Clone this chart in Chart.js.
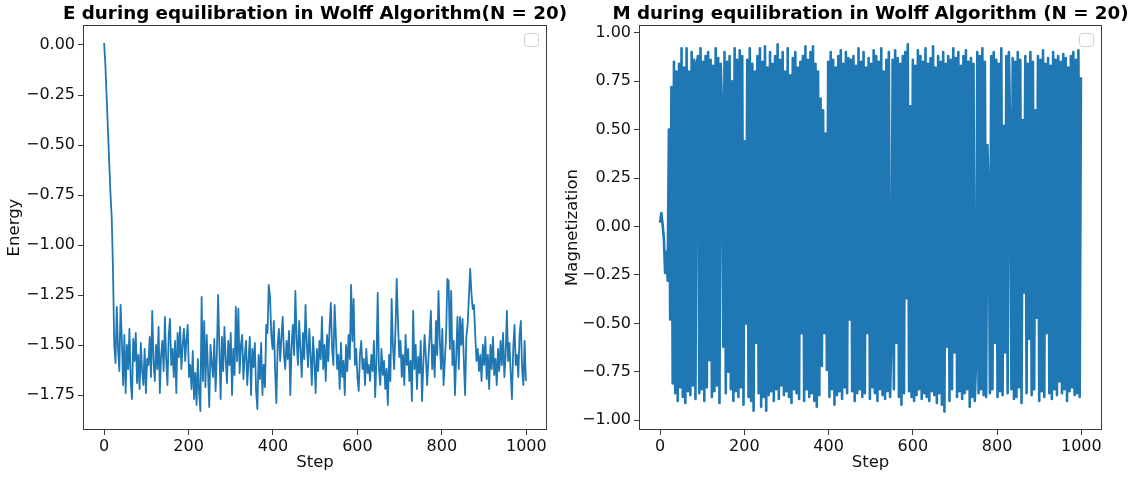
<!DOCTYPE html>
<html>
<head>
<meta charset="utf-8">
<script src="https://cdn.jsdelivr.net/npm/chart.js@4.4.1/dist/chart.umd.min.js"></script>
<style>
  html, body { margin: 0; padding: 0; background: #fff; overflow: hidden; }
  #wrap { position: relative; width: 1135px; height: 477px; }
  canvas { position: absolute; top: 0; }
  #energyChart { left: 0; }
  #magChart { left: 560px; }
</style>
</head>
<body>
<div id="wrap">
  <canvas id="energyChart" width="600" height="477"></canvas>
  <canvas id="magChart" width="575" height="477"></canvas>
</div>
<script>
// values, one sample every 3 steps (0, 3, 6 ... 999)
var STEP_STRIDE = 3;

var energy = [
  0.01, -0.10, -0.26, -0.42, -0.58, -0.74, -0.86, -1.12, -1.50, -1.59,
  -1.31, -1.52, -1.63, -1.30, -1.47, -1.70, -1.45, -1.74, -1.50, -1.62,
  -1.42, -1.68, -1.77, -1.47, -1.58, -1.44, -1.69, -1.55, -1.72, -1.49,
  -1.63, -1.70, -1.52, -1.74, -1.57, -1.60, -1.46, -1.66, -1.33, -1.58,
  -1.68, -1.50, -1.62, -1.41, -1.74, -1.55, -1.48, -1.63, -1.36, -1.57,
  -1.70, -1.45, -1.37, -1.60, -1.52, -1.66, -1.48, -1.74, -1.44, -1.56,
  -1.41, -1.62, -1.50, -1.42, -1.58, -1.47, -1.40, -1.66, -1.60, -1.72,
  -1.53, -1.77, -1.64, -1.80, -1.57, -1.74, -1.83, -1.26, -1.68, -1.38,
  -1.71, -1.45, -1.62, -1.81, -1.50, -1.59, -1.66, -1.47, -1.73, -1.55,
  -1.25, -1.52, -1.77, -1.46, -1.63, -1.41, -1.57, -1.69, -1.48, -1.60,
  -1.44, -1.75, -1.52, -1.65, -1.31, -1.58, -1.32, -1.64, -1.50, -1.45,
  -1.67, -1.56, -1.48, -1.70, -1.58, -1.46, -1.75, -1.52, -1.61, -1.49,
  -1.73, -1.82, -1.55, -1.67, -1.49, -1.75, -1.60, -1.71, -1.40, -1.44,
  -1.20, -1.26, -1.45, -1.52, -1.38, -1.63, -1.79, -1.50, -1.42, -1.58,
  -1.46, -1.36, -1.55, -1.62, -1.48, -1.57, -1.43, -1.75, -1.51, -1.40,
  -1.55, -1.23, -1.47, -1.60, -1.38, -1.52, -1.66, -1.44, -1.57, -1.30,
  -1.49, -1.61, -1.42, -1.55, -1.70, -1.46, -1.58, -1.74, -1.52, -1.63,
  -1.48, -1.57, -1.36, -1.62, -1.50, -1.68, -1.45, -1.58, -1.41, -1.29,
  -1.52, -1.60, -1.30, -1.46, -1.62, -1.55, -1.72, -1.49, -1.66, -1.58,
  -1.75, -1.50, -1.63, -1.45, -1.57, -1.20, -1.48, -1.27, -1.60, -1.52,
  -1.66, -1.73, -1.55, -1.48, -1.62, -1.57, -1.70, -1.52, -1.64, -1.60,
  -1.68, -1.55, -1.63, -1.48, -1.76, -1.58, -1.24, -1.62, -1.70, -1.52,
  -1.65, -1.58, -1.72, -1.62, -1.80, -1.55, -1.68, -1.27, -1.50, -1.62,
  -1.43, -1.17, -1.38, -1.56, -1.48, -1.66, -1.55, -1.70, -1.45, -1.60,
  -1.52, -1.68, -1.58, -1.78, -1.33, -1.62, -1.50, -1.72, -1.56, -1.64,
  -1.48, -1.78, -1.60, -1.45, -1.55, -1.70, -1.58, -1.46, -1.33, -1.62,
  -1.50, -1.66, -1.38, -1.55, -1.23, -1.47, -1.62, -1.42, -1.70, -1.58,
  -1.45, -1.17, -1.18, -1.52, -1.23, -1.60, -1.48, -1.75, -1.55, -1.36,
  -1.62, -1.36, -1.50, -1.37, -1.58, -1.75, -1.46, -1.40, -1.26, -1.12,
  -1.24, -1.32, -1.30, -1.45, -1.58, -1.52, -1.63, -1.55, -1.68, -1.50,
  -1.60, -1.46, -1.67, -1.55, -1.72, -1.50, -1.62, -1.46, -1.65, -1.57,
  -1.70, -1.52, -1.63, -1.48, -1.60, -1.44, -1.66, -1.55, -1.33, -1.58,
  -1.49, -1.64, -1.77, -1.52, -1.40, -1.60, -1.55, -1.66, -1.45, -1.38,
  -1.62, -1.70, -1.48, -1.68
];

var magnetization = [
  0.02, 0.07, 0.01, -0.06, -0.24, -0.13, -0.28, 0.50, -0.48, 0.72,
  -0.81, 0.85, -0.86, 0.80, -0.90, 0.84, -0.83, 0.92, -0.88, 0.82,
  -0.91, 0.92, -0.85, 0.80, -0.87, 0.90, -0.82, 0.86, -0.89, 0.84,
  0.88, -0.86, 0.92, -0.84, 0.85, -0.90, 0.88, -0.83, 0.90, -0.69,
  0.86, -0.88, 0.83, -0.85, 0.92, -0.82, 0.87, -0.91, 0.84, 0.62,
  -0.62, 0.90, -0.86, 0.85, -0.75, 0.88, -0.84, 0.75, -0.90, 0.92,
  -0.85, 0.86, -0.88, 0.91, -0.83, 0.88, -0.92, 0.44, -0.50, 0.86,
  -0.88, 0.92, -0.90, 0.84, -0.95, 0.80, -0.60, 0.88, -0.86, 0.92,
  -0.93, 0.85, -0.88, 0.93, -0.95, 0.82, -0.87, 0.90, -0.85, 0.84,
  -0.90, 0.88, -0.84, 0.94, -0.89, 0.86, -0.82, 0.90, -0.87, 0.80,
  -0.85, 0.92, -0.88, 0.78, -0.91, 0.87, -0.84, 0.90, -0.86, 0.82,
  -0.89, 0.85, -0.55, 0.88, -0.90, 0.93, -0.84, 0.86, -0.88, 0.90,
  -0.86, 0.93, -0.90, 0.84, -0.93, 0.80, -0.87, 0.66, -0.72, 0.60,
  -0.55, 0.48, -0.74, 0.85, -0.88, 0.90, -0.84, 0.86, -0.92, 0.82,
  -0.87, 0.88, -0.85, 0.91, -0.89, 0.84, -0.83, 0.90, -0.86, 0.87,
  -0.48, 0.86, -0.85, 0.88, -0.90, 0.83, -0.86, 0.92, -0.84, 0.85,
  -0.88, 0.90, -0.86, 0.82, -0.55, 0.87, -0.89, 0.84, -0.83, 0.91,
  -0.86, 0.88, -0.90, 0.85, -0.84, 0.92, -0.87, 0.80, -0.89, 0.86,
  -0.85, 0.90, -0.88, -0.60, 0.86, -0.84, 0.91, -0.60, 0.87, -0.88,
  0.84, -0.92, 0.88, -0.86, 0.90, -0.37, 0.94, -0.85, 0.62, -0.88,
  0.86, -0.90, 0.83, -0.87, 0.91, -0.84, 0.88, -0.89, 0.85, -0.86,
  0.92, -0.88, 0.84, -0.90, 0.87, -0.85, 0.93, -0.87, 0.82, -0.91,
  0.88, -0.86, 0.85, -0.92, 0.90, -0.955, 0.84, -0.62, 0.88, -0.90,
  0.86, -0.84, 0.92, -0.65, 0.87, -0.88, 0.90, -0.85, 0.83, -0.89,
  0.88, -0.86, 0.91, -0.84, 0.85, -0.93, 0.87, -0.88, 0.84, -0.90,
  -0.70, 0.90, -0.86, 0.88, -0.84, 0.92, -0.87, 0.85, -0.88, 0.42,
  0.18, -0.86, 0.88, -0.84, 0.90, -0.60, 0.86, -0.88, 0.84, -0.85,
  0.92, -0.87, 0.52, -0.65, 0.88, -0.86, 0.90, 0.50, -0.84, 0.87,
  -0.89, 0.85, -0.88, 0.90, -0.83, 0.86, -0.91, 0.55, -0.34, 0.88,
  -0.86, 0.84, -0.58, 0.90, -0.87, 0.85, -0.84, 0.60, -0.47, 0.88,
  -0.90, 0.86, -0.85, 0.91, -0.88, 0.84, -0.55, 0.87, -0.86, 0.83,
  -0.89, 0.90, -0.84, 0.86, -0.87, 0.88, -0.80, 0.85, -0.86, 0.89,
  -0.84, 0.87, -0.90, 0.82, -0.85, 0.88, -0.83, 0.90, -0.87, 0.86,
  -0.86, 0.91, -0.88, 0.77
];

var stepTicks = [0, 200, 400, 600, 800, 1000];
var energyTicks = [0, -0.25, -0.5, -0.75, -1, -1.25, -1.5, -1.75];
var magTicks = [1, 0.75, 0.5, 0.25, 0, -0.25, -0.5, -0.75, -1];

var BLUE = '#1f77b4';
var AXIS = '#3a3a3a';
var FONT = '"DejaVu Sans", "Liberation Sans", sans-serif';

function toPoints(values) {
    return values.map(function (v, i) { return { x: i * STEP_STRIDE, y: v }; });
}

function minusLabel(v) {
    return (v < 0 ? '\u2212' : '') + Math.abs(v).toFixed(2);
}

// matplotlib-like box, the empty legend frame and the axes title
var axesDecor = {
    id: 'axesDecor',
    afterDraw: function (chart, args, opts) {
        var ctx = chart.ctx, a = chart.chartArea;
        ctx.save();
        ctx.strokeStyle = AXIS;
        ctx.lineWidth = 1;
        ctx.strokeRect(Math.round(a.left) + 0.5, Math.round(a.top) + 0.5,
            Math.round(a.right - a.left) - 1, Math.round(a.bottom - a.top) - 1);

        ctx.fillStyle = 'rgba(255,255,255,0.8)';
        ctx.strokeStyle = '#d0d0d0';
        ctx.beginPath();
        ctx.roundRect(Math.round(a.right) - 22.5, Math.round(a.top) + 8.5, 14, 13, 3);
        ctx.fill();
        ctx.stroke();

        ctx.fillStyle = '#000';
        ctx.font = 'bold 18.3px ' + FONT;
        ctx.textAlign = 'center';
        ctx.textBaseline = 'alphabetic';
        ctx.fillText(opts.text, (a.left + a.right) / 2, 18.5);
        ctx.restore();
    }
};

function makeChart(id, values, yMin, yMax, yTicks, yLabel, yWidth, yTitlePad, rightPad, title, lineWidth) {
    return new Chart(document.getElementById(id).getContext('2d'), {
        type: 'line',
        data: {
            datasets: [{
                data: toPoints(values),
                borderColor: BLUE,
                borderWidth: lineWidth,
                borderJoinStyle: 'round',
                pointRadius: 0,
                tension: 0,
                fill: false
            }]
        },
        options: {
            responsive: false,
            animation: false,
            events: [],
            layout: { padding: { top: 25, right: rightPad, left: 0, bottom: 0 } },
            plugins: {
                legend: { display: false },
                tooltip: { enabled: false },
                axesDecor: { text: title }
            },
            scales: {
                x: {
                    type: 'linear',
                    min: -50,
                    max: 1049,
                    afterFit: function (s) { s.height = 47; },
                    afterBuildTicks: function (s) {
                        s.ticks = stepTicks.map(function (v) { return { value: v }; });
                    },
                    grid: { drawOnChartArea: false, drawTicks: true, tickLength: 5, color: AXIS },
                    border: { display: false },
                    ticks: {
                        autoSkip: false, maxRotation: 0, padding: 2, color: '#111',
                        font: { family: FONT, size: 16 },
                        callback: function (v) { return String(v); }
                    },
                    title: {
                        display: true, text: 'Step', color: '#111',
                        font: { family: FONT, size: 16.5 },
                        padding: { top: 0, bottom: 4 }
                    }
                },
                y: {
                    type: 'linear',
                    min: yMin,
                    max: yMax,
                    afterFit: function (s) { s.width = yWidth; },
                    afterBuildTicks: function (s) {
                        s.ticks = yTicks.map(function (v) { return { value: v }; });
                    },
                    grid: { drawOnChartArea: false, drawTicks: true, tickLength: 5, color: AXIS },
                    border: { display: false },
                    ticks: {
                        autoSkip: false, padding: 3, color: '#111',
                        font: { family: FONT, size: 16 },
                        callback: minusLabel
                    },
                    title: {
                        display: true, text: yLabel, color: '#111',
                        font: { family: FONT, size: 16.5 },
                        padding: { top: yTitlePad, bottom: 0 }
                    }
                }
            }
        },
        plugins: [axesDecor]
    });
}

makeChart('energyChart', energy, -1.925, 0.1, energyTicks, 'Energy', 83, 5, 53,
    'E during equilibration in Wolff Algorithm(N = 20)', 1.8);
makeChart('magChart', magnetization, -1.05, 1.04, magTicks, 'Magnetization', 79, 2.5, 33,
    'M during equilibration in Wolff Algorithm (N = 20)', 2.6);
</script>
</body>
</html>
